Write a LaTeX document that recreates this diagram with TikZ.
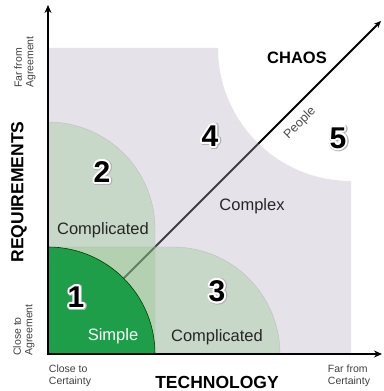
\documentclass[tikz,border=0pt]{standalone}
\usepackage{fontspec}
\setmainfont{Liberation Sans}
\usepackage{contour}
\usetikzlibrary{arrows.meta}

\definecolor{lav}{RGB}{184,172,195}
\definecolor{pale}{RGB}{130,193,121}
\definecolor{simple}{RGB}{30,158,72}

% digit with a white rim and a soft grey edge
\newcommand\rimmed[1]{\contourlength{1.9pt}\contour{white}{#1}}
\newcommand\rimshadow[1]{\contourlength{2.5pt}\contour{black!30}{#1}}

\begin{document}
\begin{tikzpicture}[x=1pt,y=1pt,
  num/.style={font=\fontsize{30}{30}\selectfont\bfseries},
  numshadow/.style={font=\fontsize{30}{30}\selectfont\bfseries, text=black!30},
  lbl/.style={font=\fontsize{16.5}{19}\selectfont, text=black!85},
  axislbl/.style={font=\fontsize{17.5}{20}\selectfont\bfseries},
  endlbl/.style={font=\fontsize{10.5}{11.5}\selectfont, text=black!75, align=left},
  axisline/.style={line width=2.6pt, -{Stealth[length=8pt,width=7pt]}},
  paleregion/.style={fill=pale, fill opacity=0.3, draw=black!25, line width=0.4pt}]
\useasboundingbox (0,0) rectangle (383,391);

\coordinate (O) at (48,37);
\coordinate (Ytop) at (48,386);
\coordinate (Xend) at (382,37);
\coordinate (Ptip) at (381,370);

% people axis, drawn first so the regions tint it
\draw[line width=2pt, -{Stealth[length=7pt,width=6pt]}] (O) -- (Ptip);

% complex region with the chaos corner cut out
\fill[lav, fill opacity=0.35] (48,37) -- (48,343) -- (218,343)
  arc[start angle=180, end angle=270, radius=133] -- (351,37) -- cycle;

% complicated (technology)
\filldraw[paleregion] (48,37) -- (48,144) -- (173,144)
  arc[start angle=90, end angle=0, radius=107] -- cycle;
% complicated (requirements)
\filldraw[paleregion] (48,37) -- (48,269)
  arc[start angle=90, end angle=0, radius=107] -- (155,37) -- cycle;
% simple
\filldraw[fill=simple, draw=black!75!green, line width=0.6pt] (48,37) -- (48,144)
  arc[start angle=90, end angle=0, radius=107] -- cycle;

% axes
\draw[axisline] ([yshift=-1.3pt]O) -- (Ytop);
\draw[axisline] ([xshift=-1.3pt]O) -- (Xend);

% region numbers
\node[numshadow] (s1) at (76.7,92.3) {\rimshadow{1}};
\node[num] (n1) at (76,93) {\rimmed{1}};
\node[numshadow] (s2) at (102.7,217.3) {\rimshadow{2}};
\node[num] (n2) at (102,218) {\rimmed{2}};
\node[numshadow] (s3) at (217.7,98.3) {\rimshadow{3}};
\node[num] (n3) at (217,99) {\rimmed{3}};
\node[numshadow] (s4) at (210.7,253.3) {\rimshadow{4}};
\node[num] (n4) at (210,254) {\rimmed{4}};
\node[numshadow] (s5) at (338.7,251.3) {\rimshadow{5}};
\node[num] (n5) at (338,252) {\rimmed{5}};

% region names
\node[lbl, text=white] (simpleLbl) at (113,55) {Simple};
\node[lbl] (compA) at (103,161) {Complicated};
\node[lbl] (compB) at (217,54) {Complicated};
\node[lbl] (complexLbl) at (252,185) {Complex};
\node[font=\fontsize{16.5}{19}\selectfont\bfseries] (chaos) at (297,333) {CHAOS};
\node[font=\fontsize{12.5}{14}\selectfont, text=black!70, rotate=45] (people) at (300,268) {People};

% axis titles
\node[axislbl, rotate=90] (req) at (19,199) {REQUIREMENTS};
\node[axislbl] (tech) at (217,9) {TECHNOLOGY};

% axis end labels
\node[endlbl, rotate=90] (farAg) at (25,329) {Far from\\Agreement};
\node[endlbl, rotate=90] (closeAg) at (24,61) {Close to\\Agreement};
\node[endlbl] (closeCe) at (70,15) {Close to\\Certainty};
\node[endlbl] (farCe) at (349,15) {Far from\\Certainty};
\end{tikzpicture}
\end{document}
